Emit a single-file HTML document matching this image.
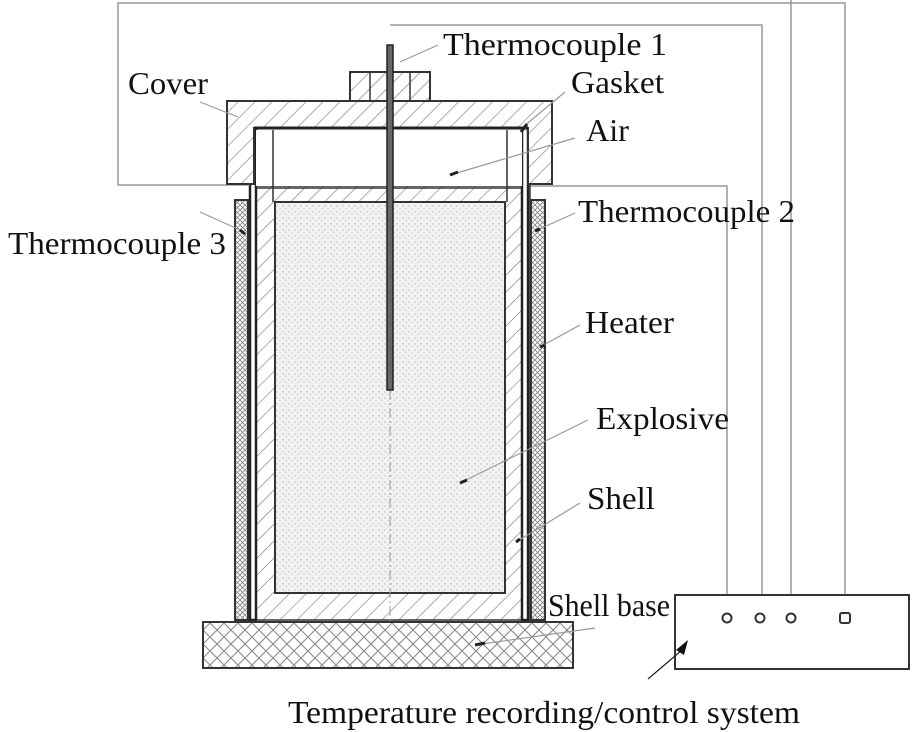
<!DOCTYPE html>
<html><head><meta charset="utf-8"><style>
html,body{margin:0;padding:0;background:#fff;}
svg{display:block}
text{font-family:"Liberation Serif",serif;font-size:32px;fill:#111}
</style></head><body>
<svg width="921" height="732" viewBox="0 0 921 732" xmlns="http://www.w3.org/2000/svg">
<defs>
<pattern id="h" width="12" height="12" patternUnits="userSpaceOnUse" patternTransform="rotate(45)">
<rect width="12" height="12" fill="#fff"/><line x1="0" y1="0" x2="0" y2="12" stroke="#777" stroke-width="1.2"/></pattern>
<pattern id="dots" width="6" height="6" patternUnits="userSpaceOnUse">
<rect width="6" height="6" fill="#f2f2f2"/><circle cx="1" cy="2" r="0.7" fill="#b5b5b5"/><circle cx="4" cy="4.5" r="0.7" fill="#c5c5c5"/></pattern>
<pattern id="brick" width="14" height="14" patternUnits="userSpaceOnUse">
<rect width="14" height="14" fill="#fff"/><path d="M0 7 L7 0 M7 14 L14 7 M0 7 L7 14 M7 0 L14 7" stroke="#888" stroke-width="1.1" fill="none"/></pattern>
<pattern id="cross" width="5" height="5" patternUnits="userSpaceOnUse">
<rect width="5" height="5" fill="#fff"/><path d="M0 0L5 5M5 0L0 5" stroke="#888" stroke-width="0.9"/></pattern>
</defs>
<g stroke="#999" stroke-width="1.5" fill="none">
<path d="M248 185 H118 V3 H845 V612"/>
<path d="M390 25 H762 V612"/>
<path d="M791 0 V612"/>
<path d="M525 186 H727 V612"/>
</g>
<rect x="235" y="200" width="13" height="420" fill="url(#cross)" stroke="#333" stroke-width="2"/>
<rect x="531" y="200" width="14" height="420" fill="url(#cross)" stroke="#333" stroke-width="2"/>
<rect x="250" y="186" width="280" height="434" fill="url(#h)" stroke="#333" stroke-width="1.5"/>
<rect x="275" y="202" width="230" height="391" fill="url(#dots)" stroke="#333" stroke-width="2"/>
<line x1="275" y1="202" x2="505" y2="202" stroke="#333" stroke-width="2"/>
<rect x="250" y="128" width="6" height="492" fill="#fff" stroke="#222" stroke-width="2.5"/>
<rect x="522" y="128" width="6" height="492" fill="#fff" stroke="#222" stroke-width="2.5"/>
<path d="M227 101 H552 V184 H528 V128 H254 V184 H227 Z" fill="url(#h)" stroke="#333" stroke-width="2"/>
<rect x="256" y="130" width="266" height="56" fill="#fff"/>
<line x1="254" y1="128" x2="528" y2="128" stroke="#222" stroke-width="3"/>
<line x1="256" y1="188" x2="522" y2="188" stroke="#333" stroke-width="1.5"/>
<line x1="273" y1="130" x2="273" y2="202" stroke="#333" stroke-width="1.5"/>
<line x1="507" y1="130" x2="507" y2="202" stroke="#333" stroke-width="1.5"/>
<rect x="350" y="72" width="80" height="29" fill="url(#h)" stroke="#333" stroke-width="2"/>
<line x1="370" y1="72" x2="370" y2="101" stroke="#333" stroke-width="1.5"/>
<line x1="410" y1="72" x2="410" y2="101" stroke="#333" stroke-width="1.5"/>
<line x1="390" y1="390" x2="390" y2="668" stroke="#999" stroke-width="1" stroke-dasharray="10,3,2,3"/>
<rect x="387" y="45" width="6" height="345" fill="#666" stroke="#222" stroke-width="1.5"/>
<rect x="203" y="622" width="370" height="46" fill="url(#brick)" stroke="#333" stroke-width="2"/>
<g stroke="#999" stroke-width="1.2" fill="none">
<path d="M400 62 L438 45"/>
<path d="M200 102 L238 117"/>
<path d="M523 127 L565 92"/>
<path d="M450 175 L575 138"/>
<path d="M200 212 L240 230"/>
<path d="M535 231 L575 213"/>
<path d="M540 347 L580 325"/>
<path d="M460 483 L588 420"/>
<path d="M516 542 L580 503"/>
<path d="M475 645 L595 628"/>
</g>
<g stroke="#222" stroke-width="3">
<path d="M450 175 L458 172"/><path d="M240 230 L245 234"/><path d="M535 231 L540 229"/>
<path d="M540 347 L545 345"/><path d="M460 483 L467 480"/><path d="M516 542 L520 539"/><path d="M475 645 L485 643"/>
<path d="M521 132 L527 124"/>
</g>
<rect x="675" y="595" width="234" height="74" fill="#fff" stroke="#333" stroke-width="2"/>
<g fill="#fff" stroke="#333" stroke-width="2">
<circle cx="727" cy="618" r="4.5"/><circle cx="760" cy="618" r="4.5"/><circle cx="791" cy="618" r="4.5"/>
<rect x="840" y="613" width="10" height="10" rx="2"/>
</g>
<line x1="648" y1="679" x2="682" y2="650" stroke="#222" stroke-width="1.2"/>
<path d="M688 640 L676 650 L684 655 Z" fill="#111"/>
<text x="443" y="55" textLength="224" lengthAdjust="spacingAndGlyphs">Thermocouple 1</text>
<text x="128" y="94" textLength="80" lengthAdjust="spacingAndGlyphs">Cover</text>
<text x="571" y="93" textLength="93" lengthAdjust="spacingAndGlyphs">Gasket</text>
<text x="586" y="141" textLength="43" lengthAdjust="spacingAndGlyphs">Air</text>
<text x="578" y="222" textLength="217" lengthAdjust="spacingAndGlyphs">Thermocouple 2</text>
<text x="8" y="254" textLength="218" lengthAdjust="spacingAndGlyphs">Thermocouple 3</text>
<text x="585" y="333" textLength="89" lengthAdjust="spacingAndGlyphs">Heater</text>
<text x="596" y="429" textLength="133" lengthAdjust="spacingAndGlyphs">Explosive</text>
<text x="587" y="509" textLength="68" lengthAdjust="spacingAndGlyphs">Shell</text>
<text x="548" y="616" textLength="122" lengthAdjust="spacingAndGlyphs">Shell base</text>
<text x="288" y="723" textLength="512" lengthAdjust="spacingAndGlyphs">Temperature recording/control system</text>
</svg>
</body></html>
